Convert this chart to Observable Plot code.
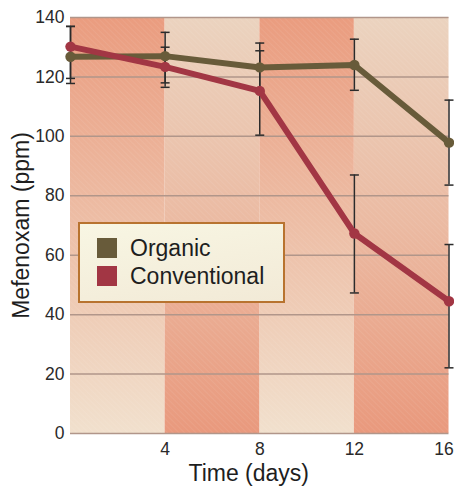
<!DOCTYPE html>
<html>
<head>
<meta charset="utf-8">
<script src="https://cdn.jsdelivr.net/npm/d3@7"></script>
<script src="https://cdn.jsdelivr.net/npm/@observablehq/plot@0.6"></script>
<style>
  html, body { margin: 0; padding: 0; background: #ffffff; }
  #wrap { position: relative; width: 454px; height: 487px; font-family: "Liberation Sans", Arial, sans-serif; }
  #legend {
    position: absolute; left: 78px; top: 222px; width: 203px; height: 77px;
    border: 2px solid #b8732f;
    background: linear-gradient(170deg, #f8f6e3, #f2ead7);
  }
  .item { position: absolute; left: 17px; display: flex; align-items: center; font-size: 23px; line-height: 20px; color: #1e1e1e; }
  .sw { width: 20px; height: 20px; margin-right: 13px; }
</style>
</head>
<body>
<div id="wrap"></div>
<script>
// ---- data ----
const days = [0, 4, 8, 12, 16];
const organic = [126.8, 127, 123.2, 124, 97.9];
const organicLo = [117.8, 118, 115, 115.5, 83.6];
const organicHi = [137, 135, 131.4, 132.7, 112.2];
const conventional = [130.2, 123.4, 115.3, 67.3, 44.5];
const conventionalLo = [119.5, 116.5, 100.4, 47.3, 22.1];
const conventionalHi = [137, 130, 128.8, 87, 63.6];
const seriesNames = ["Organic", "Conventional"];
const seriesColors = ["#685b3a", "#a23644"];
const bandStart = [0, 4, 8, 12];
const bandEnd = [4, 8, 12, 16];
const xTicks = [4, 8, 12];
const xTickLast = [16];
const yTicks = [0, 20, 40, 60, 80, 100, 120, 140];
const xLabel = "Time (days)";
const yLabel = "Mefenoxam (ppm)";

const rows = [];
days.forEach((t, i) => {
  rows.push({series: seriesNames[0], t, v: organic[i], lo: organicLo[i], hi: organicHi[i]});
});
days.forEach((t, i) => {
  rows.push({series: seriesNames[1], t, v: conventional[i], lo: conventionalLo[i], hi: conventionalHi[i]});
});
const bands = bandStart.map((s, i) => ({x1: s, x2: bandEnd[i], k: i}));
const capRows = rows.flatMap(d => [{t: d.t, y: d.lo}, {t: d.t, y: d.hi}]);

const capSymbol = {
  draw(ctx, size) {
    const r = Math.sqrt(size / Math.PI);
    ctx.moveTo(-r, 0);
    ctx.lineTo(r, 0);
  }
};

const colorScale = {domain: seriesNames, range: seriesColors};

const chart = Plot.plot({
  width: 454,
  height: 487,
  marginLeft: 70,
  marginRight: 5.5,
  marginTop: 17,
  marginBottom: 54,
  style: {fontFamily: "'Liberation Sans', Arial, sans-serif", color: "#2a2a2a", background: "transparent"},
  x: {domain: [0, 16]},
  y: {domain: [0, 140]},
  color: colorScale,
  marks: [
    Plot.rect(bands.filter(d => d.k % 2 === 0), {x1: "x1", x2: "x2", y1: 0, y2: 140, fill: "url(#gDown)"}),
    Plot.rect(bands.filter(d => d.k % 2 === 1), {x1: "x1", x2: "x2", y1: 0, y2: 140, fill: "url(#gUp)"}),
    Plot.rect(bands, {x1: "x1", x2: "x2", y1: 0, y2: 140, fill: "url(#hatch)"}),
    Plot.ruleY(yTicks, {stroke: "#b1968a", strokeWidth: 1.5}),
    Plot.axisY({ticks: yTicks, tickSize: 0, tickPadding: 6, fontSize: 17.5, label: null}),
    Plot.axisX({ticks: xTicks, tickSize: 0, tickPadding: 9, fontSize: 17.5, label: null}),
    Plot.axisX({ticks: xTickLast, tickSize: 0, tickPadding: 9, fontSize: 17.5, dx: -5, label: null}),
    Plot.ruleX(rows, {x: "t", y1: "lo", y2: "hi", stroke: "#2b2b2b", strokeWidth: 1.5}),
    Plot.dot(capRows, {x: "t", y: "y", symbol: capSymbol, r: 4.5, stroke: "#2b2b2b", strokeWidth: 1.5, fill: "none"}),
    Plot.line(rows, {x: "t", y: "v", z: "series", stroke: "series", strokeWidth: 6, strokeLinejoin: "round"}),
    Plot.dot(rows, {x: "t", y: "v", fill: "series", r: 5.2}),
    Plot.text([yLabel], {frameAnchor: "left", textAnchor: "middle", lineAnchor: "middle", rotate: -90, dx: -49, fontSize: 23, fill: "#1e1e1e"}),
    Plot.text([xLabel], {frameAnchor: "bottom", textAnchor: "middle", lineAnchor: "middle", dy: 40, dx: -11, fontSize: 23, fill: "#1e1e1e"})
  ]
});

// gradient and hatch definitions referenced by the band fills
const ns = "http://www.w3.org/2000/svg";
const defs = document.createElementNS(ns, "defs");
defs.innerHTML = `
  <linearGradient id="gDown" x1="0" y1="0" x2="0" y2="1">
    <stop offset="0" stop-color="#ea9c7f"/>
    <stop offset="0.5" stop-color="#edbea6"/>
    <stop offset="1" stop-color="#f1e0cd"/>
  </linearGradient>
  <linearGradient id="gUp" x1="0" y1="0" x2="0" y2="1">
    <stop offset="0" stop-color="#ebd3bf"/>
    <stop offset="0.5" stop-color="#ebbaa2"/>
    <stop offset="1" stop-color="#e9997d"/>
  </linearGradient>
  <pattern id="hatch" width="4" height="4" patternUnits="userSpaceOnUse" patternTransform="rotate(-45)">
    <line x1="0" y1="0" x2="0" y2="4" stroke="#ffffff" stroke-width="1" stroke-opacity="0.13"/>
  </pattern>`;
chart.insertBefore(defs, chart.firstChild);

const wrap = document.getElementById("wrap");
wrap.appendChild(chart);

// legend
const legend = document.createElement("div");
legend.id = "legend";
seriesNames.forEach((name, i) => {
  const item = document.createElement("div");
  item.className = "item";
  item.style.top = (i === 0 ? 14 : 42) + "px";
  const sw = document.createElement("div");
  sw.className = "sw";
  sw.style.background = seriesColors[i];
  const label = document.createElement("span");
  label.textContent = name;
  item.appendChild(sw);
  item.appendChild(label);
  legend.appendChild(item);
});
wrap.appendChild(legend);
</script>
</body>
</html>
